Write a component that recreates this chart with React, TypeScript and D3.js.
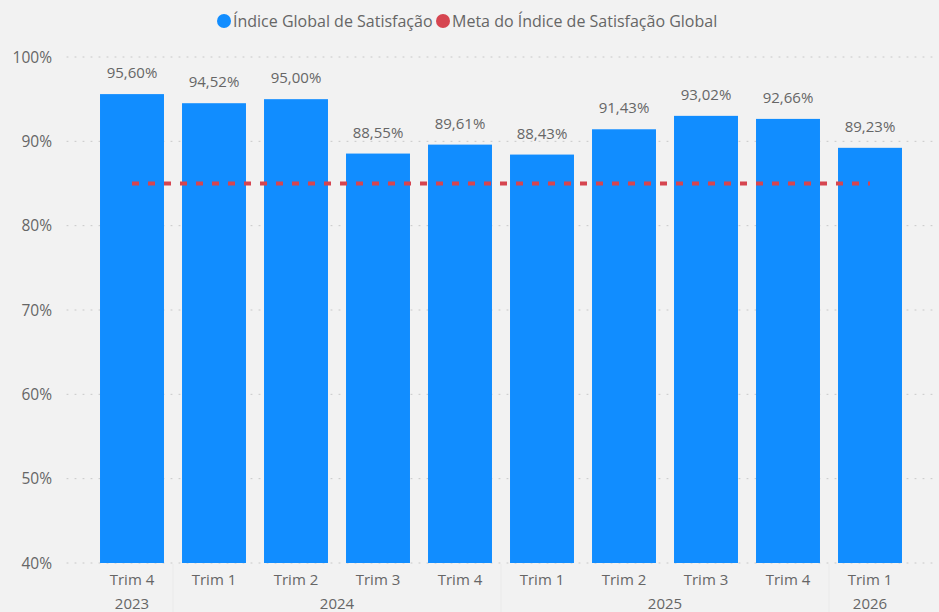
import * as React from "react";
import * as d3 from "d3";

const quarters = ["Trim 4", "Trim 1", "Trim 2", "Trim 3", "Trim 4", "Trim 1", "Trim 2", "Trim 3", "Trim 4", "Trim 1"];
const years = ["2023", "2024", "2024", "2024", "2024", "2025", "2025", "2025", "2025", "2026"];
const satisfaction = [95.6, 94.52, 95.0, 88.55, 89.61, 88.43, 91.43, 93.02, 92.66, 89.23];
const target = [85, 85, 85, 85, 85, 85, 85, 85, 85, 85];
const yTicks = [40, 50, 60, 70, 80, 90, 100];

const W = 939;
const H = 612;
const FONT = "'Open Sans', 'Noto Sans', sans-serif";
const TEXT = "#666666";
const BLUE = "#118DFF";
const RED = "#D64550";

const fmt = (v: number) => v.toFixed(2).replace(".", ",") + "%";

export default function App() {
  const keys = quarters.map((_, i) => String(i));
  const x = d3.scaleBand().domain(keys).range([91, 911]).paddingInner(0.22).paddingOuter(0.11);
  const y = d3.scaleLinear().domain([40, 100]).range([563, 57]);

  // group consecutive equal years
  const groups: { year: string; start: number; end: number }[] = [];
  years.forEach((yr, i) => {
    const last = groups[groups.length - 1];
    if (last && last.year === yr) last.end = i;
    else groups.push({ year: yr, start: i, end: i });
  });

  const cx = (i: number) => (x(String(i)) as number) + x.bandwidth() / 2;
  const line = d3.line<number>().x((_, i) => cx(i)).y((d) => y(d));

  return (
    <div style={{ position: "fixed", left: 0, top: 0 }}>
      <svg width={W} height={H} style={{ display: "block", background: "#F2F2F2", fontFamily: FONT }}>
        {/* legend */}
        <g fontSize={16} fill={TEXT}>
          <circle cx={224} cy={21} r={7} fill={BLUE} />
          <text x={233} y={26.5}>Índice Global de Satisfação</text>
          <circle cx={443} cy={21} r={7} fill={RED} />
          <text x={452} y={26.5}>Meta do Índice de Satisfação Global</text>
        </g>

        {/* gridlines + y labels */}
        {yTicks.map((t) => (
          <g key={t}>
            <line x1={67} x2={932} y1={y(t)} y2={y(t)} stroke="#C8C8C8" strokeDasharray="1,7" strokeLinecap="round" />
            <text x={52} y={y(t) + 5.5} textAnchor="end" fontSize={15.5} fill={TEXT}>{t}%</text>
          </g>
        ))}

        {/* bars */}
        {satisfaction.map((v, i) => (
          <rect key={i} x={x(String(i))} y={y(v)} width={x.bandwidth()} height={y(40) - y(v)} fill={BLUE} />
        ))}

        {/* data labels */}
        {satisfaction.map((v, i) => (
          <text key={i} x={cx(i)} y={y(v) - 16} textAnchor="middle" fontSize={15} fill={TEXT}>{fmt(v)}</text>
        ))}

        {/* target line */}
        <path d={line(target) || ""} fill="none" stroke={RED} strokeWidth={4} strokeDasharray="7,9" />

        {/* x axis */}
        {quarters.map((q, i) => (
          <text key={i} x={cx(i)} y={585} textAnchor="middle" fontSize={15} fill={TEXT}>{q}</text>
        ))}
        {groups.map((g, gi) => (
          <g key={gi}>
            <text x={(cx(g.start) + cx(g.end)) / 2} y={609} textAnchor="middle" fontSize={15} fill={TEXT}>{g.year}</text>
            {gi > 0 && (
              <line
                x1={(x(String(g.start)) as number) - (x.step() - x.bandwidth()) / 2}
                x2={(x(String(g.start)) as number) - (x.step() - x.bandwidth()) / 2}
                y1={564}
                y2={H}
                stroke="#EAEAEA"
              />
            )}
          </g>
        ))}
      </svg>
    </div>
  );
}
